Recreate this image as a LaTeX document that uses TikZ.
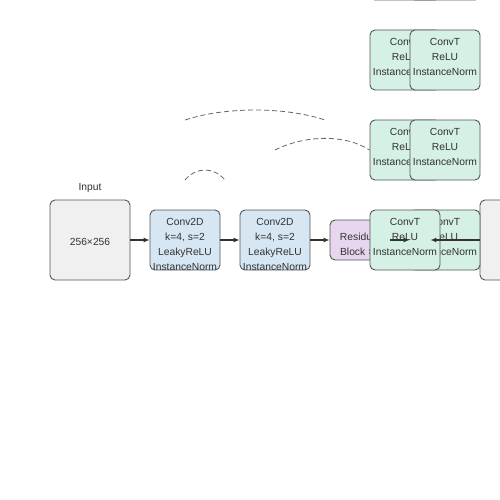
\documentclass[tikz,border=0pt]{standalone}
\usepackage{fontspec}
\setmainfont{Liberation Sans}
\usetikzlibrary{arrows.meta}
\definecolor{bordc}{HTML}{555555}
\definecolor{textc}{HTML}{333333}
\definecolor{gfill}{HTML}{F0F0F0}
\definecolor{bfill}{HTML}{D6E6F2}
\definecolor{pfill}{HTML}{E6D6EE}
\definecolor{tfill}{HTML}{D5F0E4}
\definecolor{dashc}{HTML}{666666}
\tikzset{
  box/.style={draw=bordc, line width=0.9pt, rounded corners=5pt, inner sep=0pt},
  gbox/.style={box, fill=gfill, minimum width=80pt, minimum height=80pt},
  bbox/.style={box, fill=bfill, minimum width=70pt, minimum height=60pt},
  pbox/.style={box, fill=pfill, minimum width=60pt, minimum height=40pt},
  tbox/.style={box, fill=tfill, minimum width=70pt, minimum height=60pt},
  txt/.style={font=\fontsize{10.3}{15}\selectfont, text=textc, align=center, inner sep=0pt},
  arr/.style={draw=textc, line width=1.1pt, -{Latex[length=6pt,width=5pt]}},
  skip/.style={draw=dashc, line width=0.8pt, dash pattern=on 5pt off 3pt}
}
\begin{document}
\begin{tikzpicture}[x=1pt,y=-1pt]
\useasboundingbox (0,0) rectangle (500,500);
\fill[white] (0,0) rectangle (500,500);
% input
\node[txt] (inlab) at (90,188) {Input};
\node[gbox] (in) at (90,240) {};
\node[txt] (intxt) at (90,242) {256×256};
% encoder
\node[bbox] (c1) at (185,240) {};
\node[txt, anchor=north] (c1t) at (185,218.3) {Conv2D\\k=4, s=2\\LeakyReLU\\InstanceNorm};
\node[bbox] (c2) at (275,240) {};
\node[txt, anchor=north] (c2t) at (275,218.3) {Conv2D\\k=4, s=2\\LeakyReLU\\InstanceNorm};
% residual
\node[pbox] (res) at (360,240) {};
\node[txt] (rest) at (360,244) {Residual\\Block ×9};
% output
\node[gbox] (out) at (520,240) {};
\node[txt] (outt) at (520,242) {256×256};
% decoder row y=240 (back first)
\node[tbox] (d1b) at (445,240) {};
\node[txt, anchor=north] (d1bt) at (445,218.3) {ConvT\\ReLU\\InstanceNorm};
\node[tbox] (d1f) at (405,240) {};
\node[txt, anchor=north] (d1ft) at (405,218.3) {ConvT\\ReLU\\InstanceNorm};
% decoder row y=150
\node[tbox] (d2a) at (405,150) {};
\node[txt, anchor=north] (d2at) at (405,128.3) {ConvT\\ReLU\\InstanceNorm};
\node[tbox] (d2b) at (445,150) {};
\node[txt, anchor=north] (d2bt) at (445,128.3) {ConvT\\ReLU\\InstanceNorm};
% decoder row y=60
\node[tbox] (d3a) at (405,60) {};
\node[txt, anchor=north] (d3at) at (405,38.3) {ConvT\\ReLU\\InstanceNorm};
\node[tbox] (d3b) at (445,60) {};
\node[txt, anchor=north] (d3bt) at (445,38.3) {ConvT\\ReLU\\InstanceNorm};
% decoder row y=-30
\node[tbox] (d4a) at (405,-30) {};
\node[tbox] (d4b) at (445,-30) {};
% arrows
\draw[arr] (in.east) -- (c1.west);
\draw[arr] (c1.east) -- (c2.west);
\draw[arr] (c2.east) -- (res.west);
\draw[arr] (res.east) -- (d1b.west);
\draw[arr] (out.west) -- ([xshift=-10pt]d1f.east);
% skip connections
\coordinate (s1a) at (185,120);
\coordinate (s1b) at (325,120);
\coordinate (s2a) at (275,150);
\coordinate (s3a) at (185,180);
\coordinate (s3b) at (225,180);
\draw[skip] (s1a) .. controls (225,106.7) and (285,106.7) .. (s1b);
\draw[skip] (s2a) .. controls (305,135) and (345,134) .. (d2a.west);
\draw[skip] (s3a) .. controls (196,166.7) and (214,166.7) .. (s3b);
\end{tikzpicture}
\end{document}
